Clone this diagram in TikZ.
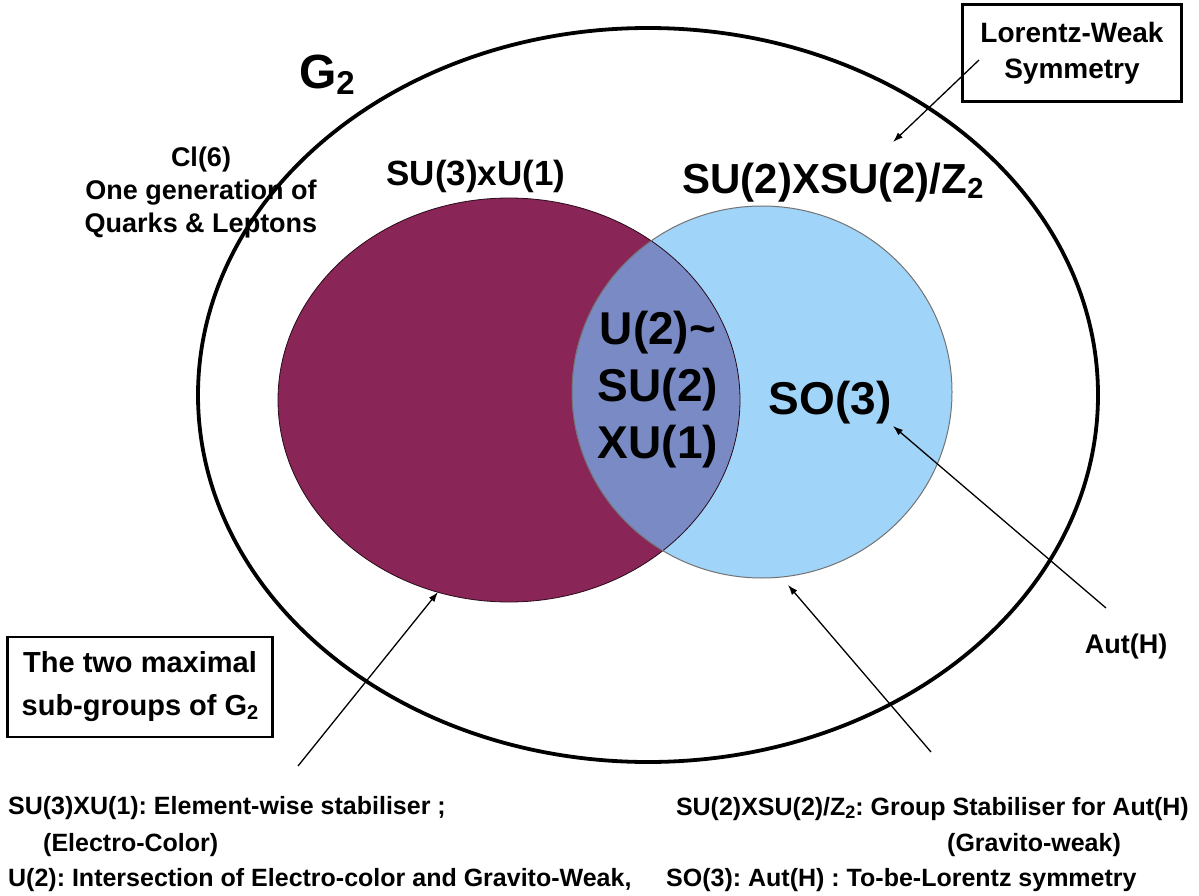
\documentclass[tikz,border=0pt]{standalone}
\usepackage{fontspec}
\setmainfont{Liberation Sans}
\usetikzlibrary{arrows.meta}
\definecolor{maroonc}{RGB}{138,37,87}
\definecolor{lbluec}{RGB}{160,212,248}
\definecolor{lensc}{RGB}{122,138,196}
\newcommand\fsz[2]{\fontsize{#1}{#2}\selectfont}
\newcommand\subtwo[1]{\raisebox{-0.12em}{\fsz{#1}{#1}2}}
\frenchspacing
\tikzset{
  lbl/.style={font=\bfseries, inner sep=0pt, align=center},
  ptr/.style={-{Latex[length=10pt,width=7pt]}, line width=1.3pt},
  framed/.style={draw, line width=2.6pt, inner sep=0pt, align=center},
  capt/.style={font=\bfseries\fsz{25}{30}, inner sep=0pt, anchor=west}
}
\begin{document}
\begin{tikzpicture}[x=1pt,y=-1pt]
\useasboundingbox (0,0) rectangle (1199,896);
\fill[white] (0,0) rectangle (1199,896);

% outer G2 ellipse
\draw[line width=3.8pt] (648,395) ellipse [x radius=450, y radius=367];

% inner sets
\fill[maroonc] (509,400) ellipse [x radius=231, y radius=202];
\fill[lbluec] (762,392) ellipse [x radius=190, y radius=186];
\begin{scope}
  \clip (509,400) ellipse [x radius=231, y radius=202];
  \fill[lensc] (762,392) ellipse [x radius=190, y radius=186];
\end{scope}
\draw[line width=0.8pt, black!70!maroonc] (509,400) ellipse [x radius=231, y radius=202];
\draw[line width=1pt, black!55] (762,392) ellipse [x radius=190, y radius=186];

% labels
\node[lbl, font=\bfseries\fsz{48}{50}] (g2) at (327,75) {G\subtwo{33}};
\node[lbl, font=\bfseries\fsz{27}{33}] (cl6) at (201,193) {Cl(6)\\One generation of\\Quarks \& Leptons};
\node[lbl, font=\bfseries\fsz{35}{40}] (su31) at (476,176) {SU(3)xU(1)};
\node[lbl, font=\bfseries\fsz{42}{46}] (su22) at (833,183) {SU(2)XSU(2)/Z\subtwo{29}};
\node[framed, font=\bfseries\fsz{28}{36}, minimum width=219pt, minimum height=97pt] (lw) at (1072,53) {Lorentz-Weak\\Symmetry};
\node[lbl, font=\bfseries\fsz{46}{57}] (u2) at (658,390) {U(2)\textasciitilde\\SU(2)\\XU(1)};
\node[lbl, font=\bfseries\fsz{46}{50}] (so3) at (830,403) {SO(3)};
\node[lbl, font=\bfseries\fsz{27}{30}] (aut) at (1126,647) {Aut(H)};
\node[framed, font=\bfseries\fsz{29}{43}, minimum width=265pt, minimum height=100pt] (maxg) at (140,687) {The two maximal\\sub-groups of G\subtwo{20}};

% captions
\node[capt] (c1) at (8,808) {SU(3)XU(1): Element-wise stabiliser ;};
\node[capt] (c1b) at (43,845) {(Electro-Color)};
\node[capt] (c3) at (8,880) {U(2): Intersection of Electro-color and Gravito-Weak,};
\node[capt] (c4) at (666,880) {SO(3): Aut(H) : To-be-Lorentz symmetry};
\node[capt, anchor=east] (c2) at (1189,809) {SU(2)XSU(2)/Z\subtwo{18}: Group Stabiliser for Aut(H)};
\node[capt, anchor=center] (c2b) at (1034,845) {(Gravito-weak)};

% arrows
\coordinate (lwS) at (979,60);   \coordinate (lwT) at (893,142);
\coordinate (auS) at (1106,608); \coordinate (auT) at (893,426);
\coordinate (c2S) at (931,752);  \coordinate (c2T) at (788,585);
\coordinate (c1S) at (298,766);  \coordinate (c1T) at (438,592);
\draw[ptr] (lwS) -- (lwT);
\draw[ptr] (auS) -- (auT);
\draw[ptr] (c2S) -- (c2T);
\draw[ptr] (c1S) -- (c1T);
\end{tikzpicture}
\end{document}
